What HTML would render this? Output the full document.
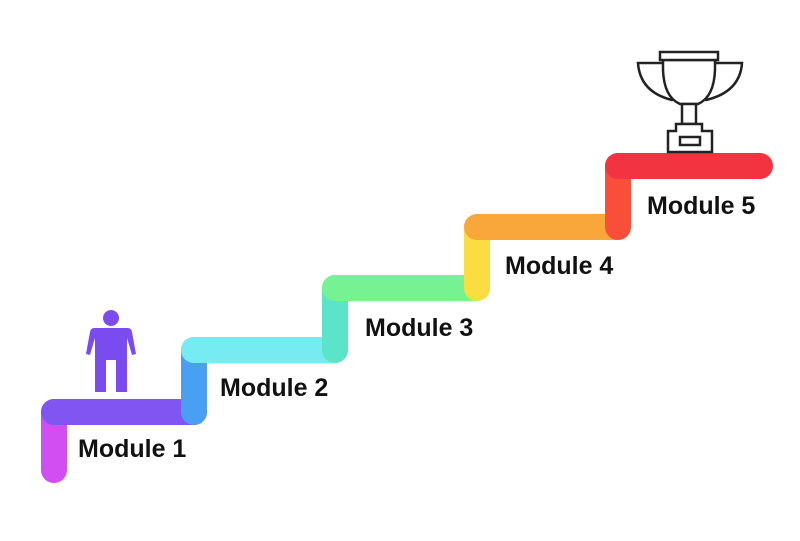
<!DOCTYPE html>
<html><head><style>
html,body{margin:0;padding:0;background:#fff}
.t{position:absolute;font-family:"Liberation Sans",sans-serif;font-weight:bold;font-size:25px;color:#111;white-space:nowrap}
</style></head><body>
<div style="position:relative;width:800px;height:541px;overflow:hidden">
<svg width="800" height="541" style="position:absolute;left:0;top:0" stroke-linecap="round" fill="none">
<g stroke-width="26" opacity="0.85">
<line x1="54" y1="470" x2="54" y2="412" stroke="#c830f0"/>
<line x1="54" y1="412" x2="194" y2="412" stroke="#6a38f0"/>
<line x1="194" y1="412" x2="194" y2="350" stroke="#2a90f0"/>
<line x1="194" y1="350" x2="335" y2="350" stroke="#60e8f0"/>
<line x1="335" y1="350" x2="335" y2="288" stroke="#40e0c0"/>
<line x1="335" y1="288" x2="477" y2="288" stroke="#60f080"/>
<line x1="477" y1="288" x2="477" y2="227" stroke="#f8d820"/>
<line x1="477" y1="227" x2="618" y2="227" stroke="#f89818"/>
<line x1="618" y1="227" x2="618" y2="166" stroke="#f83018"/>
<line x1="618" y1="166" x2="760" y2="166" stroke="#f01020"/>
</g>
<g fill="#7a4cf0">
<circle cx="111" cy="318" r="8"/>
<path d="M94 328 H128 Q131 328 132 332 L136 354 L132 355 L127 338 V392 H116 V360 H106 V392 H95 V338 L90 355 L86 354 L90 332 Q91 328 94 328Z"/>
</g>
<g stroke="#222" stroke-width="2.5" fill="#fff">
<path d="M663 63 H638 Q640 92 672 100"/>
<path d="M715 63 H742 Q740 92 706 100"/>
<path d="M663 60 H715 V70 Q714 97 698 104 H680 Q664 97 663 70Z"/>
<rect x="660" y="52" width="58" height="8"/>
<path d="M682 104 H696 V124 H682Z"/>
<path d="M676 124 H702 V131 H712 V152 H668 V131 H676Z"/>
<rect x="680" y="137" width="20" height="8"/>
</g>
</svg>
<div class="t" style="left:78px;top:435px">Module 1</div>
<div class="t" style="left:220px;top:374px">Module 2</div>
<div class="t" style="left:365px;top:314px">Module 3</div>
<div class="t" style="left:505px;top:252px">Module 4</div>
<div class="t" style="left:647px;top:192px">Module 5</div>
</div>
</body></html>
